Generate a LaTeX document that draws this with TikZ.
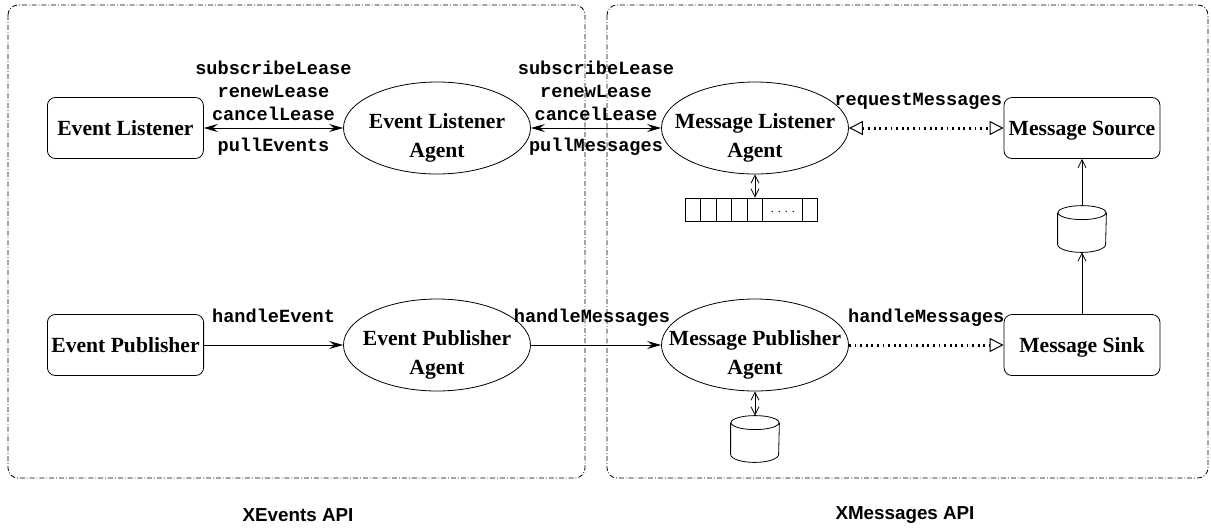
\documentclass[tikz,border=0pt]{standalone}
\usepackage{fontspec}
\setmainfont{Liberation Serif}
\setsansfont{Liberation Sans}
\setmonofont{Liberation Mono}
\usetikzlibrary{positioning, shapes.geometric, arrows.meta}

\begin{document}
\begin{tikzpicture}[x=0.5pt, y=-0.5pt,
    comp/.style={draw, rounded corners=4pt, minimum width=78pt, minimum height=30.5pt,
      inner xsep=2pt, text depth=0pt, font=\bfseries\fontsize{10.8}{13}\selectfont},
    agent/.style={draw, ellipse, minimum width=93.5pt, minimum height=46pt, inner sep=0pt},
    agenttext/.style={align=center, yshift=-4.8pt, inner sep=0pt,
      font=\bfseries\fontsize{10.8}{14.5}\selectfont},
    store/.style={minimum width=24pt, minimum height=23pt, inner sep=0pt},
    op/.style={font=\ttfamily\bfseries\fontsize{9.3}{11.5}\selectfont, inner sep=0pt},
    api/.style={font=\sffamily\bfseries\fontsize{9.4}{11}\selectfont},
    call/.style={line width=0.5pt},
    async/.style={line width=1.5pt, dash pattern=on 0.9pt off 1.9pt},
    small/.style={line width=0.4pt},
    frame/.style={line width=0.4pt, rounded corners=5pt, dash pattern=on 2.5pt off 1pt on 0.4pt off 1pt},
    >={Stealth[length=7pt, width=4pt, inset=2.5pt]}
  ]
    \useasboundingbox (0,0) rectangle (1211,531);

    % Two API areas
    \draw[frame] (8,5) rectangle (585,478);
    \draw[frame] (607,5) rectangle (1208,478);
    \node[api] (xevents) at (298,515) {XEvents API};
    \node[api] (xmessages) at (905,515) {XMessages API};

    % Components and agents
    \node[comp, anchor=west] (elis) at (47,128) {Event Listener};
    \node[comp, anchor=west] (epub) at (47,345) {Event Publisher};
    \node[agent, label={[agenttext]center:Event Listener\\Agent}] (elag) at (437,128) {};
    \node[agent, label={[agenttext]center:Event Publisher\\Agent}] (epag) at (437,345) {};
    \node[agent, label={[agenttext]center:Message Listener\\Agent}] (mlag) at (755,128) {};
    \node[agent, label={[agenttext]center:Message Publisher\\Agent}] (mpag) at (755,345) {};
    \node[comp] (msrc) at (1082,128) {Message Source};
    \node[comp] (msnk) at (1082,345) {Message Sink};

    % Message queue
    \node[draw, small, minimum width=66pt, minimum height=11.5pt, inner sep=0pt] (queue) at (751.5,209.5) {};
    \foreach \d in {15.5,31,46.5,62,77.5,117} {
      \draw[small] (queue.north west) ++(\d,0) -- ++(0,23);
    }
    \node[font=\fontsize{6}{7}\selectfont, inner sep=0pt] (qdots) at (782.8,212) {. . . .};

    % Stores (drawn as cylinders)
    \node[store] (buf) at (1082,229) {};
    \node[store] (mstore) at (755,439) {};
    \foreach \s in {buf, mstore} {
      \draw[small] ([yshift=-3.5pt]\s.north) ellipse [x radius=12pt, y radius=3.5pt];
      \draw[small] ([yshift=-3.5pt]\s.north west) -- ([yshift=4pt]\s.south west)
        arc[start angle=180, end angle=360, x radius=12pt, y radius=4pt]
        -- ([yshift=-3.5pt]\s.north east);
    }

    % Calls between components
    \draw[call, <->] (elis) -- (elag)
      node[midway, above=3.5pt, op, align=center, text depth=0pt] (elops) {subscribeLease\\renewLease\\cancelLease}
      node[midway, op, anchor=base, yshift=-11.5pt] (elpull) {pullEvents};
    \draw[call, <->] (elag) -- (mlag)
      node[midway, above=3.5pt, op, align=center, text depth=0pt] (mlops) {subscribeLease\\renewLease\\cancelLease}
      node[midway, op, anchor=base, yshift=-11.5pt] (mlpull) {pullMessages};
    \draw[call, ->] (epub) -- (epag)
      node[midway, op, anchor=base, yshift=11.5pt] (hevent) {handleEvent};
    \draw[call, ->] (epag) -- (mpag)
      node[midway, op, anchor=base, yshift=11.5pt, xshift=-2pt] (hmsg) {handleMessages};

    % Asynchronous delivery
    \draw[async, {Triangle[open, length=7pt, width=7pt, line width=0.5pt]}-{Triangle[open, length=7pt, width=7pt, line width=0.5pt]}] (mlag) -- (msrc)
      node[midway, op, anchor=base, yshift=11.5pt, xshift=-4pt] (reqmsg) {requestMessages};
    \draw[async, -{Triangle[open, length=7pt, width=7pt, line width=0.5pt]}] (mpag) -- (msnk)
      node[midway, op, anchor=base, yshift=11.5pt] (hsink) {handleMessages};

    % Links to queue and stores
    \draw[small, {Straight Barb[length=4pt, width=4pt]}-{Straight Barb[length=4pt, width=4pt]}] (mlag.south) -- (mlag.south |- queue.north);
    \draw[small, {Straight Barb[length=4pt, width=4pt]}-{Straight Barb[length=4pt, width=4pt]}] (mpag) -- (mstore);
    \draw[small, -{Straight Barb[length=4pt, width=4pt]}] (msnk) -- (buf);
    \draw[small, -{Straight Barb[length=4pt, width=4pt]}] (buf) -- (msrc);
\end{tikzpicture}
\end{document}
